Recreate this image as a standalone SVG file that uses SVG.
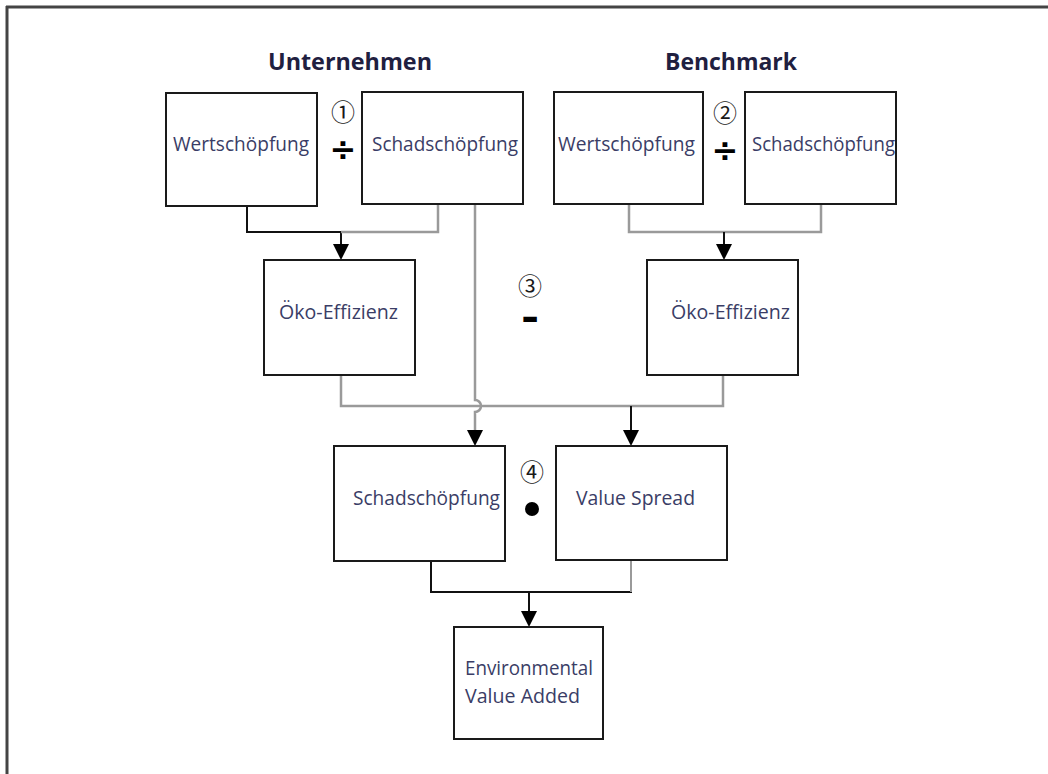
<svg xmlns="http://www.w3.org/2000/svg" width="1048" height="774" viewBox="0 0 1048 774">
<style>
.box{fill:#fff;stroke:#1a1a1a;stroke-width:2}
.lbl{font-family:"Open Sans","Liberation Sans",sans-serif;font-size:20px;fill:#3a3d66}
.head{font-family:"Open Sans","Liberation Sans",sans-serif;font-size:24px;font-weight:bold;fill:#1f2040}
.num{font-family:"Noto Sans CJK JP","DejaVu Sans",sans-serif;font-size:24px;fill:#1a1a1a;text-anchor:middle}
.op{font-family:"DejaVu Sans",sans-serif;font-weight:bold;fill:#000;text-anchor:middle}
.blk{fill:none;stroke:#111;stroke-width:2}
.gry{fill:none;stroke:#9a9a9a;stroke-width:2.5}
.ah{fill:#000}
</style>
<rect width="1048" height="774" fill="#fff"/>
<g id="frame">
<line x1="6" y1="7" x2="1048" y2="7" stroke="#444" stroke-width="3"/>
<line x1="7" y1="6" x2="7" y2="774" stroke="#444" stroke-width="3"/>
</g>
<g id="headings">
<text class="head" x="350" y="70" text-anchor="middle" textLength="164" lengthAdjust="spacingAndGlyphs">Unternehmen</text>
<text class="head" x="731" y="70" text-anchor="middle" textLength="132" lengthAdjust="spacingAndGlyphs">Benchmark</text>
</g>
<g id="connectors">
<path class="blk" d="M247,206 V232 H341 V246"/>
<path class="gry" d="M341,232 H438 V204"/>
<polygon class="ah" points="333,244 349,244 341,260"/>
<path class="gry" d="M475,204 V400 A6,6 0 0 1 475,412 V432"/>
<polygon class="ah" points="467,430 483,430 475,446"/>
<path class="gry" d="M629,204 V232 H821 V204"/>
<path class="blk" d="M724,232 V246"/>
<polygon class="ah" points="716,244 732,244 724,260"/>
<path class="gry" d="M341,375 V406 H723 V375"/>
<path class="blk" d="M631,406 V432"/>
<polygon class="ah" points="623,430 639,430 631,446"/>
<path class="blk" d="M431,561 V592 H632"/>
<path class="gry" d="M631,560 V592" style="stroke-width:2"/>
<path class="blk" d="M529,592 V613"/>
<polygon class="ah" points="521,611 537,611 529,627"/>
</g>
<g id="u-wertschoepfung">
<rect class="box" x="166" y="93" width="151" height="113"/>
<text class="lbl" x="241" y="151" text-anchor="middle" textLength="136" lengthAdjust="spacingAndGlyphs">Wertschöpfung</text>
</g>
<g id="u-schadschoepfung">
<rect class="box" x="362" y="92" width="161" height="112"/>
<text class="lbl" x="445" y="151" text-anchor="middle" textLength="146" lengthAdjust="spacingAndGlyphs">Schadschöpfung</text>
</g>
<g id="b-wertschoepfung">
<rect class="box" x="554" y="92" width="149" height="112"/>
<text class="lbl" x="626.5" y="151" text-anchor="middle" textLength="137" lengthAdjust="spacingAndGlyphs">Wertschöpfung</text>
</g>
<g id="b-schadschoepfung">
<rect class="box" x="745" y="92" width="151" height="112"/>
<text class="lbl" x="823.5" y="151" text-anchor="middle" textLength="143" lengthAdjust="spacingAndGlyphs">Schadschöpfung</text>
</g>
<g id="u-oekoeffizienz">
<rect class="box" x="264" y="260" width="151" height="115"/>
<text class="lbl" x="338.5" y="319" text-anchor="middle" textLength="119" lengthAdjust="spacingAndGlyphs">Öko-Effizienz</text>
</g>
<g id="b-oekoeffizienz">
<rect class="box" x="647" y="260" width="151" height="115"/>
<text class="lbl" x="730.5" y="319" text-anchor="middle" textLength="119" lengthAdjust="spacingAndGlyphs">Öko-Effizienz</text>
</g>
<g id="schadschoepfung">
<rect class="box" x="334" y="446" width="171" height="115"/>
<text class="lbl" x="426.5" y="505" text-anchor="middle" textLength="147" lengthAdjust="spacingAndGlyphs">Schadschöpfung</text>
</g>
<g id="value-spread">
<rect class="box" x="556" y="446" width="171" height="114"/>
<text class="lbl" x="635.5" y="505" text-anchor="middle" textLength="119" lengthAdjust="spacingAndGlyphs">Value Spread</text>
</g>
<g id="eva">
<rect class="box" x="454" y="627" width="149" height="112"/>
<text class="lbl" x="465" y="675" textLength="128" lengthAdjust="spacingAndGlyphs">Environmental</text>
<text class="lbl" x="465" y="703" textLength="115" lengthAdjust="spacingAndGlyphs">Value Added</text>
</g>
<g id="operators">
<text class="num" x="343" y="121">①</text>
<text class="op" x="343" y="160" font-size="32">÷</text>
<text class="num" x="725" y="122">②</text>
<text class="op" x="725" y="161" font-size="32">÷</text>
<text class="num" x="530" y="295">③</text>
<text class="op" font-size="22" stroke="#000" stroke-width="2.2" transform="translate(530,326) scale(1.5,1)">-</text>
<text class="num" x="532" y="481">④</text>
<circle cx="532" cy="509" r="7" fill="#000"/>
</g>
</svg>
